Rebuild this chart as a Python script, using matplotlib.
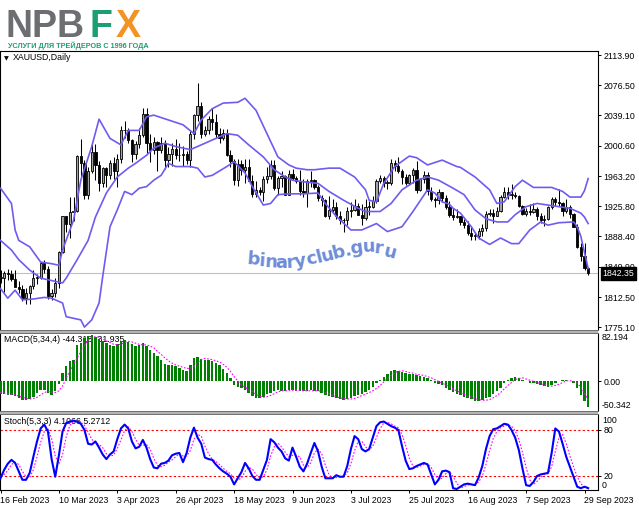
import numpy as np
import pandas as pd
import matplotlib
matplotlib.use('Agg')
import matplotlib.pyplot as plt
from matplotlib.patches import Rectangle

W, H = 639, 508
BAR_PX = 3.65      # px between bars
X0_PX = 0.5        # px position of first bar
RIGHT = 598        # price scale line

# trading days (Good Friday closed)
dates = pd.bdate_range('2023-02-16', '2023-10-02').drop(pd.Timestamp('2023-04-07'))

opens = [1836, 1836, 1842, 1841, 1835, 1825, 1823, 1811, 1817, 1826,
         1836, 1836, 1855, 1847, 1814, 1817, 1830, 1868, 1913, 1903,
         1918, 1920, 1988, 1979, 1940, 1970, 1993, 1977, 1955, 1973,
         1965, 1980, 1969, 1984, 2020, 2021, 2008, 1990, 2003, 2014,
         2040, 2004, 1995, 2005, 1995, 2004, 1983, 1990, 1997, 1989,
         1989, 1990, 1983, 2016, 2039, 2050, 2016, 2021, 2034, 2030,
         2015, 2011, 2017, 1989, 1982, 1958, 1978, 1971, 1975, 1957,
         1941, 1946, 1943, 1959, 1963, 1977, 1948, 1961, 1963, 1940,
         1966, 1961, 1957, 1944, 1942, 1957, 1958, 1950, 1936, 1933,
         1913, 1921, 1924, 1913, 1908, 1908, 1919, 1921, 1926, 1915,
         1911, 1925, 1925, 1932, 1957, 1961, 1955, 1955, 1979, 1976,
         1969, 1962, 1955, 1965, 1971, 1946, 1959, 1965, 1944, 1934,
         1933, 1943, 1936, 1925, 1915, 1912, 1913, 1906, 1902, 1892,
         1889, 1889, 1895, 1898, 1916, 1917, 1914, 1920, 1937, 1943,
         1940, 1940, 1938, 1926, 1916, 1919, 1918, 1922, 1913, 1908,
         1910, 1924, 1934, 1931, 1930, 1920, 1925, 1916, 1900, 1875,
         1864, 1848]
highs = [1846, 1845, 1847, 1846, 1846, 1832, 1828, 1824, 1827, 1846,
         1841, 1856, 1858, 1851, 1822, 1836, 1870, 1914, 1913, 1937,
         1937, 1989, 2009, 1983, 1975, 2003, 2003, 1982, 1975, 1975,
         1983, 1987, 1990, 2025, 2032, 2023, 2009, 2007, 2023, 2048,
         2048, 2015, 2012, 2007, 2012, 2008, 1999, 2004, 2009, 2004,
         2000, 1994, 2019, 2041, 2079, 2056, 2025, 2038, 2048, 2041,
         2023, 2022, 2022, 1995, 1985, 1984, 1983, 1985, 1985, 1965,
         1957, 1950, 1963, 1974, 1983, 1983, 1963, 1969, 1965, 1971,
         1972, 1963, 1971, 1959, 1959, 1969, 1960, 1952, 1940, 1934,
         1938, 1935, 1931, 1920, 1911, 1925, 1931, 1935, 1930, 1928,
         1935, 1932, 1938, 1960, 1964, 1963, 1958, 1985, 1983, 1987,
         1972, 1966, 1966, 1973, 1982, 1961, 1970, 1968, 1950, 1937,
         1947, 1943, 1939, 1932, 1923, 1922, 1914, 1910, 1907, 1900,
         1894, 1898, 1903, 1920, 1922, 1922, 1925, 1939, 1949, 1949,
         1953, 1943, 1940, 1927, 1923, 1928, 1929, 1925, 1917, 1915,
         1926, 1937, 1937, 1947, 1931, 1935, 1927, 1917, 1903, 1880,
         1880, 1850]
lows = [1830, 1819, 1834, 1832, 1826, 1818, 1808, 1804, 1804, 1823,
        1829, 1835, 1843, 1810, 1809, 1813, 1824, 1867, 1894, 1886,
        1907, 1918, 1962, 1934, 1934, 1967, 1958, 1944, 1949, 1949,
        1960, 1959, 1950, 1979, 2010, 2004, 1981, 1985, 1998, 2012,
        1992, 1981, 1991, 1969, 1992, 1972, 1975, 1976, 1985, 1982,
        1976, 1978, 1975, 2009, 2032, 2010, 2013, 2015, 2021, 2010,
        2004, 2008, 1988, 1974, 1952, 1951, 1964, 1955, 1957, 1937,
        1937, 1940, 1932, 1954, 1960, 1946, 1939, 1950, 1940, 1939,
        1958, 1954, 1940, 1937, 1925, 1950, 1947, 1932, 1926, 1912,
        1910, 1918, 1910, 1903, 1893, 1902, 1912, 1919, 1915, 1902,
        1909, 1915, 1923, 1930, 1954, 1950, 1947, 1952, 1969, 1967,
        1953, 1952, 1952, 1954, 1942, 1944, 1954, 1939, 1932, 1925,
        1928, 1931, 1922, 1912, 1908, 1911, 1902, 1898, 1890, 1884,
        1884, 1885, 1889, 1895, 1913, 1905, 1913, 1918, 1936, 1935,
        1935, 1936, 1924, 1915, 1914, 1915, 1917, 1909, 1905, 1901,
        1909, 1922, 1926, 1926, 1913, 1917, 1911, 1900, 1873, 1857,
        1846, 1840]
closes = [1836, 1842, 1841, 1835, 1825, 1823, 1811, 1817, 1826, 1836,
          1836, 1855, 1847, 1814, 1817, 1830, 1868, 1913, 1903, 1918,
          1920, 1988, 1979, 1940, 1970, 1993, 1977, 1955, 1973, 1965,
          1980, 1969, 1984, 2020, 2021, 2008, 1990, 2003, 2014, 2040,
          2004, 1995, 2005, 1995, 2004, 1983, 1990, 1997, 1989, 1989,
          1990, 1983, 2016, 2039, 2050, 2016, 2021, 2034, 2030, 2015,
          2011, 2017, 1989, 1982, 1958, 1978, 1971, 1975, 1957, 1941,
          1946, 1943, 1959, 1963, 1977, 1948, 1961, 1963, 1940, 1966,
          1961, 1957, 1944, 1942, 1957, 1958, 1950, 1936, 1933, 1913,
          1921, 1924, 1913, 1908, 1908, 1919, 1921, 1926, 1915, 1911,
          1925, 1925, 1932, 1957, 1961, 1955, 1955, 1979, 1976, 1969,
          1962, 1955, 1965, 1971, 1946, 1959, 1965, 1944, 1934, 1933,
          1943, 1936, 1925, 1915, 1912, 1913, 1906, 1902, 1892, 1889,
          1889, 1895, 1898, 1916, 1917, 1914, 1920, 1937, 1943, 1940,
          1940, 1938, 1926, 1916, 1919, 1918, 1922, 1913, 1908, 1910,
          1924, 1934, 1931, 1930, 1920, 1925, 1916, 1900, 1875, 1864,
          1848, 1842.35]
last_price = 1842.35

# Bollinger bands (bar index, price)
bb_up_i = [0, 3, 4, 5, 8, 11, 14, 16, 17, 20, 22, 25, 27, 30, 33, 35, 38, 40, 42, 46,
           50, 53, 55, 58, 61, 65, 67, 70, 73, 76, 79, 81, 84, 86, 90, 93, 97, 100, 101, 103,
           105, 108, 112, 114, 117, 121, 125, 126, 130, 134, 136, 138, 141, 143, 146, 151, 154, 156, 159, 160,
           161]
bb_up = [1948, 1929, 1896, 1883, 1875, 1856, 1854, 1852, 1871, 1908, 1958, 2000, 2034, 2010, 2002, 2020, 2020, 2037, 2039, 2033,
         2027, 2016, 2033, 2047, 2054, 2055, 2060, 2045, 2016, 1987, 1977, 1973, 1971, 1971, 1973, 1973, 1962, 1946, 1933, 1931,
         1954, 1975, 1988, 1986, 1977, 1983, 1975, 1974, 1962, 1946, 1929, 1931, 1950, 1958, 1949, 1949, 1944, 1937, 1937, 1945,
         1960]
bb_mid_i = [0, 3, 5, 8, 11, 14, 17, 18, 21, 24, 26, 29, 32, 35, 37, 40, 42, 45, 48, 52,
            55, 58, 62, 65, 68, 72, 75, 78, 80, 83, 87, 90, 94, 98, 100, 104, 107, 110, 114, 117,
            120, 124, 127, 130, 133, 136, 139, 141, 144, 147, 150, 153, 156, 159, 160, 161]
bb_mid = [1883, 1871, 1859, 1846, 1836, 1833, 1830, 1836, 1859, 1883, 1912, 1942, 1962, 1973, 1979, 1989, 1998, 2004, 2000, 1996,
          2002, 2008, 2016, 2014, 2002, 1987, 1971, 1962, 1958, 1956, 1954, 1944, 1933, 1923, 1919, 1919, 1929, 1946, 1958, 1962,
          1958, 1948, 1940, 1921, 1910, 1906, 1906, 1915, 1925, 1929, 1927, 1925, 1923, 1917, 1912, 1904]
bb_lo_i = [0, 2, 4, 6, 9, 12, 14, 17, 18, 20, 22, 23, 25, 27, 28, 30, 32, 34, 36, 38,
           40, 42, 44, 46, 48, 52, 54, 56, 58, 62, 64, 67, 69, 72, 74, 76, 79, 83, 87, 89,
           92, 96, 99, 103, 106, 110, 113, 117, 119, 121, 123, 124, 126, 129, 131, 134, 137, 140, 142, 145,
           148, 150, 153, 157, 158, 159, 160, 161]
bb_lo = [1823, 1811, 1821, 1809, 1810, 1812, 1811, 1805, 1788, 1786, 1784, 1775, 1784, 1805, 1838, 1900, 1921, 1944, 1940, 1948,
         1950, 1958, 1964, 1979, 1975, 1975, 1973, 1962, 1964, 1975, 1981, 1967, 1950, 1927, 1929, 1940, 1941, 1941, 1942, 1929,
         1913, 1896, 1896, 1904, 1894, 1900, 1919, 1946, 1942, 1931, 1928, 1923, 1917, 1900, 1886, 1878, 1886, 1879, 1879, 1896,
         1906, 1902, 1905, 1906, 1900, 1888, 1868, 1848]

# MACD(5,34,4): histogram and signal, one value per bar
macd = [-21, -22, -23, -23, -25, -29, -31, -31, -30, -26,
        -20, -15, -15, -19, -23, -17, -4, 14, 26, 34,
        37, 62, 66, 73, 77, 78, 75, 72, 68, 65,
        62, 60, 63, 69, 71, 67, 63, 60, 62, 65,
        60, 54, 49, 43, 37, 30, 28, 27, 26, 23,
        20, 17, 28, 40, 42, 38, 37, 37, 35, 32,
        28, 21, 14, 5, -7, -10, -11, -14, -19, -25,
        -28, -28, -26, -22, -19, -16, -15, -16, -16, -15,
        -15, -16, -16, -17, -16, -15, -16, -17, -20, -23,
        -25, -27, -29, -30, -31, -30, -28, -25, -23, -21,
        -18, -15, -10, -3, 2, 7, 13, 18, 20, 18,
        16, 14, 13, 12, 11, 9, 7, 5, 2, -2,
        -5, -7, -11, -15, -18, -21, -23, -26, -28, -30,
        -33, -33, -32, -29, -26, -22, -17, -11, -3, 2,
        5, 7, 6, 3, 1, -2, -3, -5, -6, -8,
        -9, -7, -3, 1, 2, 2, 0, -3, -12, -23,
        -34, -44.318]
macd_signal = [-19, -20, -21, -22, -23, -25, -27, -29, -30, -29,
               -27, -23, -19, -17, -18, -19, -16, -8, 5, 18,
               28, 40, 50, 60, 70, 74, 76, 75, 72, 69,
               66, 63, 62, 63, 66, 68, 67, 65, 63, 62,
               62, 60, 57, 51, 46, 40, 35, 31, 28, 26,
               24, 22, 22, 26, 32, 37, 39, 38, 37, 35,
               33, 29, 24, 17, 8, 1, -6, -10, -14, -17,
               -22, -25, -27, -26, -24, -21, -18, -16, -16, -16,
               -15, -15, -15, -16, -16, -16, -16, -16, -17, -19,
               -21, -24, -26, -28, -29, -30, -30, -29, -27, -24,
               -22, -19, -16, -12, -7, -1, 5, 10, 15, 17,
               18, 17, 15, 14, 12, 11, 10, 8, 6, 3,
               0, -3, -6, -9, -13, -16, -19, -22, -25, -27,
               -29, -31, -32, -32, -31, -28, -24, -19, -13, -7,
               -2, 3, 5, 6, 4, 2, 0, -2, -4, -6,
               -7, -8, -7, -5, -2, 1, 1, 0, -3, -10,
               -20, -31.935]
macd_max, macd_min = 82.194, -50.342

# Stochastic(5,3,3)
stoch_k = [17, 28, 36, 41, 37, 26, 15, 15, 24, 45,
           65, 82, 87, 78, 42, 19, 47, 78, 89, 91,
           92, 91, 88, 80, 62, 61, 65, 57, 48, 42,
           48, 52, 68, 82, 87, 82, 65, 56, 58, 67,
           57, 42, 31, 30, 36, 37, 40, 47, 49, 50,
           38, 50, 70, 83, 70, 62, 44, 42, 41, 35,
           30, 26, 23, 19, 9, 17, 25, 37, 30, 20,
           15, 15, 28, 41, 68, 64, 57, 52, 43, 40,
           57, 45, 32, 26, 36, 50, 63, 52, 32, 17,
           17, 17, 21, 19, 19, 33, 55, 72, 68, 55,
           52, 55, 70, 85, 90, 91, 88, 85, 83, 80,
           59, 40, 29, 30, 33, 35, 37, 35, 22, 9,
           15, 26, 27, 25, 4, 3, 6, 9, 10, 9,
           8, 18, 33, 55, 72, 81, 82, 85, 88, 87,
           80, 70, 54, 30, 8, 7, 12, 20, 22, 23,
           24, 50, 82, 78, 62, 45, 32, 19, 6, 4,
           6, 4.1066]
stoch_d = [20, 22, 27, 35, 38, 35, 26, 19, 18, 28,
           45, 64, 78, 82, 69, 46, 36, 48, 71, 86,
           91, 91, 90, 86, 77, 68, 63, 61, 57, 49,
           46, 47, 56, 67, 79, 84, 78, 68, 60, 60,
           61, 55, 43, 34, 32, 34, 38, 41, 45, 49,
           46, 46, 53, 68, 74, 72, 59, 49, 42, 39,
           35, 30, 26, 23, 17, 15, 17, 26, 31, 29,
           22, 17, 19, 28, 46, 58, 63, 58, 51, 45,
           47, 47, 45, 34, 31, 37, 50, 55, 49, 34,
           22, 17, 18, 19, 20, 24, 36, 53, 65, 65,
           58, 54, 59, 70, 82, 89, 90, 88, 85, 83,
           74, 60, 43, 33, 31, 33, 35, 36, 31, 22,
           15, 17, 23, 26, 19, 11, 4, 6, 8, 9,
           9, 12, 20, 35, 53, 69, 78, 83, 85, 87,
           85, 79, 68, 51, 31, 15, 9, 13, 18, 22,
           23, 32, 52, 70, 74, 62, 46, 32, 19, 10,
           5, 5.2712]

price_ticks = [2113.90, 2076.50, 2039.10, 2000.60, 1963.20, 1925.80, 1888.40, 1849.90, 1812.50, 1775.10]

FONT = ['Liberation Sans', 'DejaVu Sans']
FS = 6.3
BB_COL = '#6e5cf0'

fig = plt.figure(figsize=(W / 100, H / 100), dpi=100)
fig.patch.set_facecolor('white')


def px_axes(x0, y0, x1, y1, **kw):
    return fig.add_axes([x0 / W, 1 - y1 / H, (x1 - x0) / W, (y1 - y0) / H], **kw)


def fx(x):
    return x / W


def fy(y):
    return 1 - y / H


xl = ((0 - X0_PX) / BAR_PX, (RIGHT - X0_PX) / BAR_PX)
idx = np.arange(len(closes))

ax_p = px_axes(0, 51, RIGHT, 330)
ax_m = px_axes(0, 333, RIGHT, 411)
ax_s = px_axes(0, 414, RIGHT, 490)

for ax in (ax_p, ax_m, ax_s):
    ax.set_xlim(*xl)
    ax.set_facecolor('white')
    for sp in ax.spines.values():
        sp.set_color('black')
        sp.set_linewidth(0.8)
    ax.spines['bottom'].set_visible(False)
    ax.spines['top'].set_visible(False)
    ax.yaxis.tick_right()
    ax.tick_params(axis='y', direction='out', length=2.5, width=0.7, pad=1.2,
                   labelsize=FS, colors='black')
    ax.set_xticks([])
ax_p.spines['top'].set_visible(True)
ax_s.spines['bottom'].set_visible(True)

# ── price panel ──
o, h, l, c = map(np.array, (opens, highs, lows, closes))
up = c >= o
body_lo = np.minimum(o, c)
body_h = np.maximum(np.abs(c - o), 0.9)
ax_p.axhline(last_price, color='#c0c0c0', lw=0.8, zorder=1)
ax_p.vlines(idx, l, h, color='black', lw=0.75, zorder=2)
ax_p.bar(idx[up], body_h[up], bottom=body_lo[up], width=0.62, color='#a4a4a4',
         edgecolor='black', linewidth=0.6, zorder=3)
ax_p.bar(idx[~up], body_h[~up], bottom=body_lo[~up], width=0.62, color='black',
         edgecolor='black', linewidth=0.6, zorder=3)
for bi, bv in ((bb_up_i, bb_up), (bb_mid_i, bb_mid), (bb_lo_i, bb_lo)):
    ax_p.plot(bi, bv, color=BB_COL, lw=1.2, zorder=4, solid_joinstyle='round')
ax_p.set_ylim(1771.4, 2118.9)
ax_p.set_yticks(price_ticks)
ax_p.set_yticklabels([f'{v:.2f}' for v in price_ticks], family=FONT)

# ── MACD panel ──
ax_m.bar(idx, macd, width=0.68, color='#008000', zorder=3)
ax_m.plot(idx, macd_signal, color='#ff00ff', lw=0.8, ls=(0, (1.5, 1.5)), zorder=4)
ax_m.set_ylim(macd_min, macd_max)
ax_m.set_yticks([0])
ax_m.set_yticklabels(['0.00'], family=FONT)

# ── Stochastic panel ──
for lev in (20, 80):
    ax_s.axhline(lev, color='#ff0000', lw=0.8, ls=(0, (2, 2)), zorder=2)
ax_s.plot(idx, stoch_d, color='#ff00ff', lw=0.8, ls=(0, (1.5, 1.5)), zorder=3)
ax_s.plot(idx, stoch_k, color='#0000ff', lw=1.5, zorder=4)
ax_s.set_ylim(1.7, 100.8)
ax_s.set_yticks([20, 80])
ax_s.set_yticklabels(['20', '80'], family=FONT)
tick_pos = idx[::16]
ax_s.set_xticks(tick_pos)
ax_s.set_xticklabels([f'{dates[i].day} {dates[i].strftime("%b %Y")}' for i in tick_pos],
                     family=FONT, fontsize=FS, ha='left')
ax_s.tick_params(axis='x', direction='out', length=2.5, width=0.7, pad=1.5, colors='black')

# panel headers (drawn below the marks, as in the terminal)
ax_p.text(fx(4), fy(59), '\u25bc', transform=fig.transFigure, fontsize=4.5,
          va='center', ha='left', family='DejaVu Sans', zorder=1)
ax_p.text(fx(13), fy(58), 'XAUUSD,Daily', transform=fig.transFigure, fontsize=FS,
          va='center', ha='left', family=FONT, zorder=1)
ax_m.text(fx(4.5), fy(340), 'MACD(5,34,4) -44.318 -31.935', transform=fig.transFigure,
          fontsize=FS, va='center', ha='left', family=FONT, zorder=1)
ax_s.text(fx(4.5), fy(422), 'Stoch(5,3,3) 4.1066 5.2712', transform=fig.transFigure,
          fontsize=FS, va='center', ha='left', family=FONT, zorder=1)

# scale labels at the panel edges
for yy, s in ((338, f'{macd_max:.3f}'), (406, f'{macd_min:.3f}'), (420.5, '100'), (486, '0')):
    fig.text(fx(602), fy(yy), s, fontsize=FS, va='center', ha='left', family=FONT)
fig.text(fx(602.5), fy(273.5), f'{last_price:.2f}', fontsize=FS, va='center', ha='left',
         family=FONT, color='white', zorder=10,
         bbox=dict(boxstyle='square,pad=0.18', facecolor='black', edgecolor='black'))

# overlay in pixel coordinates: separators, logo, watermark
ov = fig.add_axes([0, 0, 1, 1], zorder=6)
ov.set_xlim(0, W)
ov.set_ylim(H, 0)
ov.axis('off')
ov.patch.set_alpha(0)
for y0 in (330, 411):
    ov.add_patch(Rectangle((0, y0), RIGHT, 3, facecolor='#b4b4b4', edgecolor='none'))
    ov.plot([0, RIGHT], [y0 + 0.3, y0 + 0.3], color='#6e6e6e', lw=0.7)
    ov.plot([0, RIGHT], [y0 + 2.7, y0 + 2.7], color='#6e6e6e', lw=0.7)

ov.text(6, 37, 'NPB', fontsize=27, fontweight='bold', color='#6d6e71',
        family=FONT, ha='left', va='baseline')
ov.text(90, 37, 'F', fontsize=27, fontweight='bold', color='#1a9e72',
        family=FONT, ha='left', va='baseline')
ov.text(116, 37, 'X', fontsize=27, fontweight='bold', color='#f39323',
        family=FONT, ha='left', va='baseline')
ov.text(8, 47.5, 'УСЛУГИ ДЛЯ ТРЕЙДЕРОВ С 1996 ГОДА', fontsize=5.25, fontweight='bold',
        color='#1a9e72', family=['Liberation Sans Narrow', 'Liberation Sans', 'DejaVu Sans'],
        ha='left', va='baseline')

wm_letters = list('binaryclub.guru')
wm_x = [252.5, 261.5, 270.5, 281, 291, 301, 312, 320, 328.5, 339.5, 348.5, 357.5, 368.5, 378, 389]
wm_y = [265, 266, 267, 267.5, 267.5, 266, 264, 262, 260, 257, 255, 253, 252, 253, 257.5]
wm_rot = [-5, -4, -3, 0, 4, 8, 12, 14, 14, 14, 12, 8, 2, -6, -14]
for ch, x, y, r in zip(wm_letters, wm_x, wm_y, wm_rot):
    ov.text(x, y, ch, fontsize=13, fontweight='bold', color='#6e8cd7', family='DejaVu Sans',
            ha='center', va='baseline', rotation=r, rotation_mode='anchor')

fig.savefig('out.png', dpi=100, facecolor='white')
